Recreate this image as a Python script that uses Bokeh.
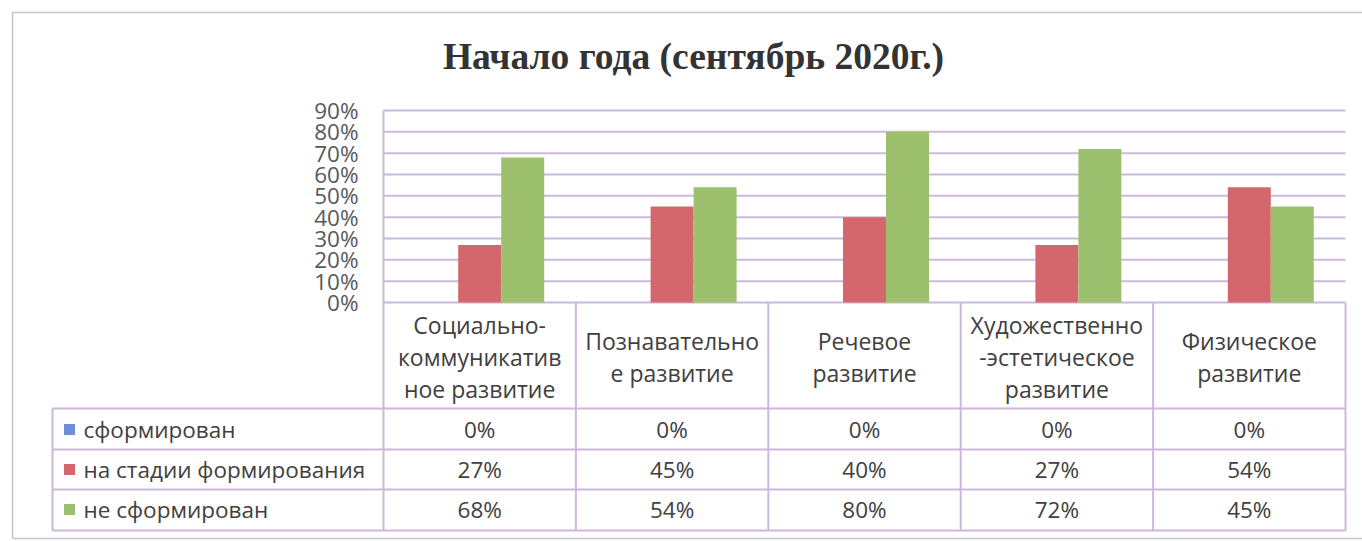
from bokeh.plotting import figure
from bokeh.models import Range1d
from bokeh.core.properties import value
from bokeh.embed import file_html
from bokeh.resources import INLINE

# ---------------- data ----------------
title = "Начало года (сентябрь 2020г.)"
categories = [
    "Социально-\nкоммуникатив\nное развитие",
    "Познавательно\nе развитие",
    "Речевое\nразвитие",
    "Художественно\n-эстетическое\nразвитие",
    "Физическое\nразвитие",
]
series_names = ["сформирован", "на стадии формирования", "не сформирован"]
formed = [0, 0, 0, 0, 0]
forming = [27, 45, 40, 27, 54]
not_formed = [68, 54, 80, 72, 45]
y_ticks = [0, 10, 20, 30, 40, 50, 60, 70, 80, 90]
colors = ["#6C8FD6", "#D4676B", "#9DC06E"]

# ---------------- layout helpers (pixels -> data units) ----------------
W, H = 1362, 541
PL, PR, PT, PB = 383, 1345, 110, 302
n = len(categories)
CW = (PR - PL) / n
PPU = (PB - PT) / max(y_ticks)


def X(px):
    return (px - PL) / CW


def Y(py):
    return (PB - py) / PPU


FONT = value("Open Sans")
TXT = "#404040"
LINE = "#CDB8DC"
TL = 52  # table left border (px)

p = figure(width=W, height=H, x_range=Range1d(X(0), X(W)), y_range=Range1d(Y(H), Y(0)),
           output_backend="svg", toolbar_location=None, min_border=0,
           x_axis_location=None, y_axis_location=None)
p.grid.visible = False
p.outline_line_color = None
p.background_fill_color = "white"
p.border_fill_color = "white"

# outer frame
p.segment(x0=[X(12), X(12), X(12)], y0=[Y(12), Y(12), Y(538)],
          x1=[X(12), X(W + 5), X(W + 5)], y1=[Y(538), Y(12), Y(538)],
          line_color="#C4C4CC", line_width=1.5)

# title
p.text(x=[X(693)], y=[Y(56)], text=[title], text_font=value("Liberation Serif"),
       text_font_style="bold", text_font_size="37.5px", text_color="#333333",
       text_align="center", text_baseline="middle")

# gridlines
p.segment(x0=[0] * len(y_ticks), x1=[n] * len(y_ticks), y0=y_ticks, y1=y_ticks,
          line_color=LINE, line_width=2)

# y tick labels
p.text(x=[X(358)] * len(y_ticks), y=y_ticks, text=[f"{t}%" for t in y_ticks],
       text_font=FONT, text_font_size="22.5px", text_color="#595959",
       text_align="right", text_baseline="middle")

# bars
centers = [i + 0.5 for i in range(n)]
bw = 43 / CW
for k, vals in enumerate([formed, forming, not_formed]):
    off = (k - 1) * bw
    p.vbar(x=[c + off for c in centers], top=vals, bottom=0, width=bw,
           fill_color=colors[k], line_color=None)

# data table lines
row_lines = [Y(408), Y(449), Y(489), Y(530)]
p.segment(x0=[X(TL)] * len(row_lines), x1=[n] * len(row_lines), y0=row_lines, y1=row_lines,
          line_color=LINE, line_width=2)
p.segment(x0=list(range(n + 1)), x1=list(range(n + 1)),
          y0=[max(y_ticks)] + [0] * n, y1=[Y(530)] * (n + 1),
          line_color=LINE, line_width=2)
p.segment(x0=[X(TL)], x1=[X(TL)], y0=[Y(408)], y1=[Y(530)], line_color=LINE, line_width=2)

# category header
p.text(x=centers, y=[Y(356)] * n, text=categories, text_font=FONT, text_font_size="23px",
       text_color=TXT, text_align="center", text_baseline="middle", text_line_height=1.0)

# rows
row_y = [Y(429), Y(469), Y(509)]
p.scatter(x=[X(69)] * 3, y=row_y, marker="square", size=11, fill_color=colors, line_color=None)
p.text(x=[X(83)] * 3, y=row_y, text=series_names, text_font=FONT, text_font_size="22.5px",
       text_color=TXT, text_align="left", text_baseline="middle")
for k, vals in enumerate([formed, forming, not_formed]):
    p.text(x=centers, y=[row_y[k]] * n, text=[f"{v}%" for v in vals], text_font=FONT,
           text_font_size="22.5px", text_color=TXT, text_align="center", text_baseline="middle")

open("out.html", "w").write(file_html(p, INLINE))
